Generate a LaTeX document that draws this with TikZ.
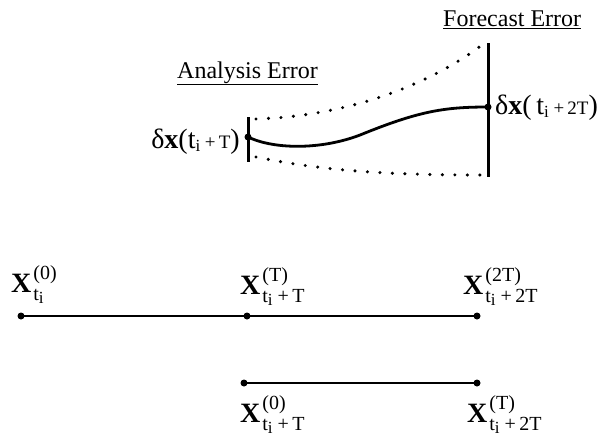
\documentclass[tikz,border=0pt]{standalone}
\usepackage{fontspec}
\setmainfont{Liberation Serif}
\newcommand{\xlab}[2]{\textbf{X}\hspace{2pt}\makebox[0pt][l]{\raisebox{13pt}{\fontsize{20}{22}\selectfont #1}}\raisebox{-8pt}{\fontsize{20}{22}\selectfont #2}}
\newcommand{\tsub}{t\raisebox{-3pt}{\fontsize{17}{19}\selectfont i}}
\begin{document}
\begin{tikzpicture}[x=1pt,y=-1pt,
  bar/.style={line width=3pt},
  curve/.style={line width=2.8pt},
  tline/.style={line width=2.4pt},
  dotline/.style={line width=3.4pt, line cap=round, dash pattern=on 0pt off 12.5pt},
  pt/.style={circle, fill, inner sep=0pt, minimum size=7pt},
  lbl/.style={font=\fontsize{28}{32}\selectfont, inner sep=0pt},
  ttl/.style={font=\fontsize{24}{28}\selectfont, inner sep=0pt}]
\useasboundingbox (0,0) rectangle (605,439);
% titles
\node[ttl, anchor=base west] (fe) at (443,27) {\underline{Forecast Error}};
\node[ttl, anchor=base west] (ae) at (177,78) {\underline{Analysis Error}};
% bars
\coordinate (lt) at (248,117);
\coordinate (lb) at (248,162);
\coordinate (rt) at (488,43);
\coordinate (rb) at (488,177);
\draw[bar] (lt) -- (lb);
\draw[bar] (rt) -- (rb);
% dotted envelopes
\coordinate (ut0) at (256,119);
\coordinate (ut1) at (482,45);
\coordinate (lo0) at (256,157);
\coordinate (lo1) at (482,175);
\draw[dotline] (ut0) .. controls (350,116) and (430,84) .. (ut1);
\draw[dotline] (lo0) .. controls (320,170) and (380,175) .. (lo1);
% solid error curve
\node[pt] (a) at (248,137) {};
\node[pt] (b) at (488,107) {};
\draw[curve] (a.center) .. controls (275,150) and (325,150) .. (365,133) .. controls (420,111) and (445,107) .. (b.center);
\node[lbl, anchor=base east] (da) at (240,148) {δ\textbf{x}(\tsub\,{\fontsize{19}{21}\selectfont +\,T})};
\node[lbl, anchor=base west] (db) at (495,114) {δ\textbf{x}(\,\tsub\,{\fontsize{19}{21}\selectfont +\,2T})};
% upper timeline
\node[pt] (p0) at (21,316) {};
\node[pt] (p1) at (247,316) {};
\node[pt] (p2) at (477,316) {};
\draw[tline] (p0.center) -- (p1.center) -- (p2.center);
\node[lbl, anchor=base west] (x0) at (11,292) {\xlab{(0)}{\tsub}};
\node[lbl, anchor=base west] (x1) at (240,294) {\xlab{(T)}{\tsub\ +\,T}};
\node[lbl, anchor=base west] (x2) at (463,294) {\xlab{(2T)}{\tsub\ +\,2T}};
% lower timeline
\node[pt] (q0) at (244,383) {};
\node[pt] (q1) at (477,383) {};
\draw[tline] (q0.center) -- (q1.center);
\node[lbl, anchor=base west] (y0) at (240,422) {\xlab{(0)}{\tsub\ +\,T}};
\node[lbl, anchor=base west] (y1) at (467,422) {\xlab{(T)}{\tsub\ +\,2T}};
\end{tikzpicture}
\end{document}
